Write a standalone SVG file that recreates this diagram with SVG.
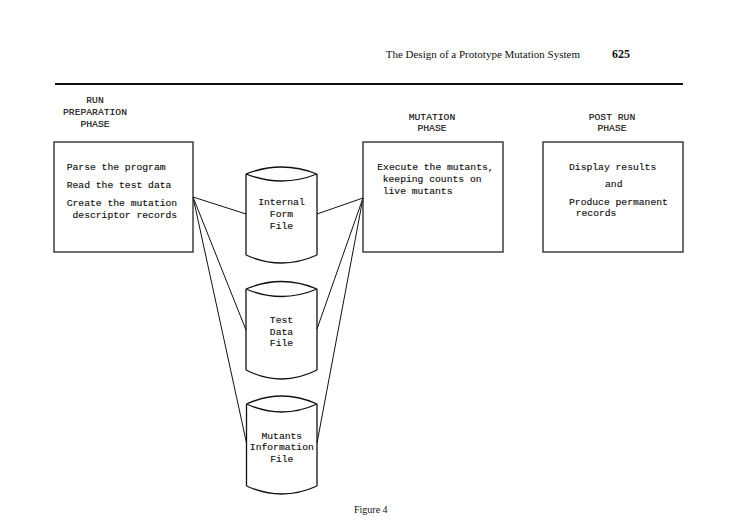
<svg xmlns="http://www.w3.org/2000/svg" width="737" height="526" viewBox="0 0 737 526">
<style>
.bg{fill:#fff}
.box{fill:none;stroke:#222;stroke-width:1.3}
.cyl{fill:none;stroke:#111;stroke-width:1.3}
.ln{stroke:#111;stroke-width:1;fill:none}
.mono{font-family:"Liberation Mono","DejaVu Sans Mono",monospace;font-size:9.7px;fill:#111;stroke:#111;stroke-width:0.15}
.mid{text-anchor:middle}
.serif{font-family:"Liberation Serif","Times New Roman",serif;fill:#111}
</style>
<rect class="bg" x="0" y="0" width="737" height="526"/>
<g id="header">
<text class="serif" x="580" y="58" font-size="11" text-anchor="end">The Design of a Prototype Mutation System</text>
<text class="serif" x="612" y="58" font-size="12" font-weight="bold">625</text>
<line x1="55" y1="84" x2="683" y2="84" stroke="#111" stroke-width="2"/>
</g>
<g id="phase-titles">
<text class="mono mid" x="95" y="103">RUN</text>
<text class="mono mid" x="95" y="115">PREPARATION</text>
<text class="mono mid" x="95" y="127">PHASE</text>
<text class="mono mid" x="432" y="120">MUTATION</text>
<text class="mono mid" x="432" y="131">PHASE</text>
<text class="mono mid" x="612" y="120">POST RUN</text>
<text class="mono mid" x="612" y="131">PHASE</text>
</g>
<g id="connectors">
<line class="ln" x1="193" y1="197" x2="246" y2="214"/>
<line class="ln" x1="317" y1="214" x2="363" y2="198"/>
<line class="ln" x1="193" y1="197" x2="246" y2="330"/>
<line class="ln" x1="193" y1="197" x2="246.5" y2="443"/>
<line class="ln" x1="363" y1="198" x2="317" y2="329"/>
<line class="ln" x1="363" y1="198" x2="317" y2="443"/>
</g>
<g id="run-preparation">
<rect class="box" x="54" y="142" width="139" height="110"/>
<text class="mono" x="66.7" y="170">Parse the program</text>
<text class="mono" x="66.7" y="188">Read the test data</text>
<text class="mono" x="66.7" y="206">Create the mutation</text>
<text class="mono" x="72.5" y="217.5">descriptor records</text>
</g>
<g id="mutation">
<rect class="box" x="363" y="142" width="140" height="110"/>
<text class="mono" x="377.3" y="170">Execute the mutants,</text>
<text class="mono" x="382.7" y="182">keeping counts on</text>
<text class="mono" x="382.7" y="194">live mutants</text>
</g>
<g id="post-run">
<rect class="box" x="543" y="142" width="140" height="110"/>
<text class="mono" x="569" y="169.5">Display results</text>
<text class="mono" x="605" y="186.5">and</text>
<text class="mono" x="569" y="205">Produce permanent</text>
<text class="mono" x="575.7" y="216">records</text>
</g>
<g id="internal-form-file">
<path class="cyl" d="M246,174 Q281.5,160 317,174 M246,174 Q281.5,188 317,174 M246,174 V255 M317,174 V255 M246,255 Q281.5,271 317,255"/>
<text class="mono mid" x="281.5" y="205">Internal</text>
<text class="mono mid" x="281.5" y="216.5">Form</text>
<text class="mono mid" x="281.5" y="228.5">File</text>
</g>
<g id="test-data-file">
<path class="cyl" d="M246,289 Q281.5,274 317,289 M246,289 Q281.5,304 317,289 M246,289 V370 M317,289 V370 M246,370 Q281.5,388 317,370"/>
<text class="mono mid" x="281.5" y="322.5">Test</text>
<text class="mono mid" x="281.5" y="334.5">Data</text>
<text class="mono mid" x="281.5" y="346">File</text>
</g>
<g id="mutants-information-file">
<path class="cyl" d="M246.5,404 Q281.8,388 317,404 M246.5,404 Q281.8,420 317,404 M246.5,404 V486 M317,404 V486 M246.5,486 Q281.8,502 317,486"/>
<text class="mono mid" x="281.8" y="438.5">Mutants</text>
<text class="mono mid" x="281.8" y="450">Information</text>
<text class="mono mid" x="281.8" y="462">File</text>
</g>
<g id="caption">
<text class="serif" x="354" y="513" font-size="10">Figure 4</text>
</g>
</svg>
